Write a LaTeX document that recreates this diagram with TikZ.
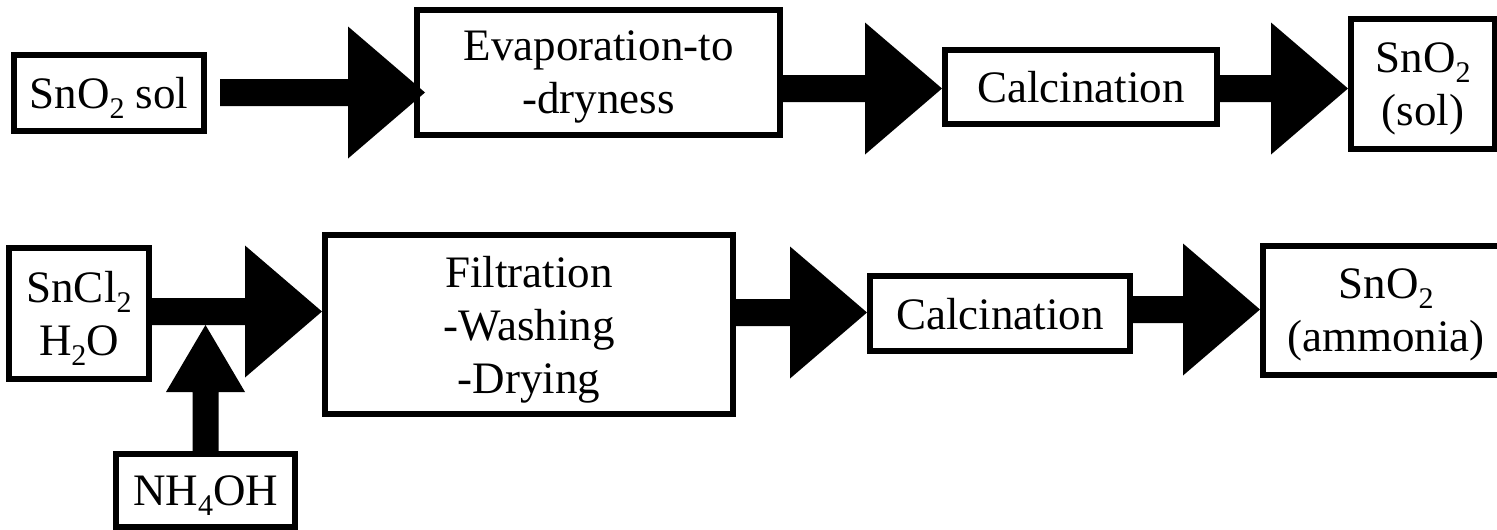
\documentclass[tikz,border=0pt]{standalone}
\usepackage{fontspec}
\setmainfont{Liberation Serif}
\usetikzlibrary{calc}
\newcommand\sub[1]{\raisebox{-10pt}{\fontsize{30}{30}\selectfont #1}}
\newcommand\harrow[3]{%
  \fill let \p1=#1, \p3=($(#2.west)+(#3,0)$) in
  (\x1,\y1+13.5pt) -- (\x3-77pt,\y1+13.5pt) -- (\x3-77pt,\y1+66pt)
  -- (\x3,\y1) -- (\x3-77pt,\y1-66pt) -- (\x3-77pt,\y1-13.5pt)
  -- (\x1,\y1-13.5pt) -- cycle;}
\tikzset{
  box/.style={draw, line width=6pt, inner sep=0pt, outer sep=0pt, align=center,
    text depth=0pt, font=\fontsize{45}{53}\selectfont}
}
\begin{document}
\begin{tikzpicture}[x=1pt,y=-1pt]
\useasboundingbox (0,0) rectangle (1497,530);
% top row
\node[box, minimum width=190pt, minimum height=76pt] (sol) at (109,93) {SnO\sub{2} sol};
\node[box, minimum width=363pt, minimum height=125pt] (evap) at (598.5,72.5) {Evaporation-to\\-dryness};
\node[box, minimum width=272pt, minimum height=74pt] (calcA) at (1081,87) {Calcination};
\node[box, minimum width=144pt, minimum height=130pt] (prodA) at (1423,84) {SnO\sub{2}\\(sol)};
% bottom row
\node[box, minimum width=140pt, minimum height=131pt] (sncl) at (79,313.5) {SnCl\sub{2}\\H\sub{2}O};
\node[box, minimum width=179pt, minimum height=73pt] (nh4) at (205.5,490.5) {NH\sub{4}OH};
\node[box, minimum width=408pt, minimum height=179pt] (filt) at (529,324.5) {Filtration\\-Washing\\-Drying};
\node[box, minimum width=260pt, minimum height=75pt] (calcB) at (1000,313.5) {Calcination};
\node[box, minimum width=246pt, minimum height=129pt] (prodB) at (1386,310.5) {SnO\sub{2}\\(ammonia)};
% arrows
\harrow{($(sol.east)+(16,-0.5)$)}{evap}{8}
\harrow{($(evap.east)+(3,16)$)}{calcA}{-3}
\harrow{($(calcA.east)+(3,1.5)$)}{prodA}{-3}
\harrow{($(sncl.east)+(3,-2)$)}{filt}{-3}
\harrow{($(filt.east)+(3,-12)$)}{calcB}{-3}
\harrow{($(calcB.east)+(3,-4)$)}{prodB}{-3}
% vertical arrow
\fill let \p1=(nh4.north) in
  (\x1-13pt,\y1) -- (\x1-13pt,\y1+62pt) -- (\x1-39.5pt,\y1+62pt) -- (\x1,\y1+129pt)
  -- (\x1+39.5pt,\y1+62pt) -- (\x1+13pt,\y1+62pt) -- (\x1+13pt,\y1) -- cycle;
\end{tikzpicture}
\end{document}
